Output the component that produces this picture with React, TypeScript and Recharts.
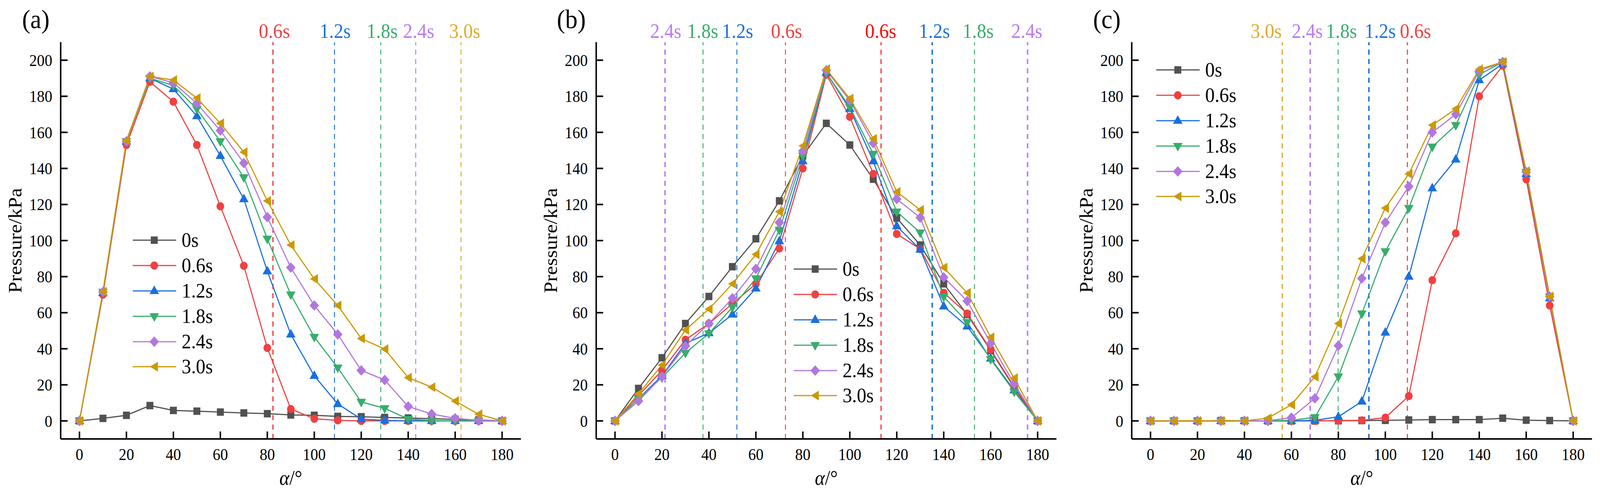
import React from "react";
import { LineChart, Line, XAxis, YAxis, ReferenceLine, Legend } from "recharts";

// ---- data ----
const ANGLE = [0, 10, 20, 30, 40, 50, 60, 70, 80, 90, 100, 110, 120, 130, 140, 150, 160, 170, 180];
const SERIES_NAMES = ["0s", "0.6s", "1.2s", "1.8s", "2.4s", "3.0s"];
const X_TICKS = [0, 20, 40, 60, 80, 100, 120, 140, 160, 180];
const Y_TICKS = [0, 20, 40, 60, 80, 100, 120, 140, 160, 180, 200];

// (a)
const A_0S = [0, 1.4, 3.1, 8.5, 5.8, 5.4, 4.9, 4.4, 4.0, 3.3, 3.1, 2.5, 2.3, 1.9, 1.6, 1.2, 0.9, 0.5, 0];
const A_06 = [0, 70, 153, 188, 177, 153, 119, 86, 40.5, 6.6, 1.2, 0.3, 0, 0, 0, 0, 0, 0, 0];
const A_12 = [0, 71, 155, 190, 184, 169, 147, 123, 83, 48, 25, 9.4, 1, 0.3, 0, 0, 0, 0, 0];
const A_18 = [0, 71.5, 155, 190, 186, 173, 155, 135, 101, 70, 46.5, 29.5, 10.5, 7, 1, 0.2, 0, 0, 0];
const A_24 = [0, 71.5, 155, 191, 187.5, 176, 161, 143, 113, 85, 64, 48, 28, 22.7, 8, 3.8, 1.4, 0.3, 0];
const A_30 = [0, 71.7, 155.5, 191, 189, 179, 165, 149, 122, 97.5, 78.7, 64, 45.7, 39.8, 24, 18.7, 11, 3.7, 0];
const A_FRONT = [82.4, 108.6, 128.3, 143.2, 162.5];
const A_FRONT_LABELS = ["0.6s", "1.2s", "1.8s", "2.4s", "3.0s"];

// (b)
const B_0S = [0, 18, 35, 54, 69, 85.5, 101, 122, 147, 165, 153, 134, 112.5, 97.5, 76, 59, 39, 18.5, 0];
const B_06 = [0, 14, 28, 45, 54, 65, 76, 95.6, 140, 192, 168.6, 137, 103.7, 95.3, 71, 59.5, 39.5, 19, 0];
const B_12 = [0, 12.4, 25, 43, 48.7, 59, 73.5, 99.7, 144, 193, 173, 144, 108, 95, 63.5, 52.4, 34.6, 17, 0];
const B_18 = [0, 12.4, 24, 37.7, 48.5, 63, 79, 105.8, 147, 193, 174, 148, 116, 104.4, 68.8, 54.8, 34.2, 16.2, 0];
const B_24 = [0, 11, 24.6, 41.5, 54, 68, 84.3, 110, 149.7, 194.4, 177.7, 154, 123, 112.7, 79.6, 66.5, 43, 20.6, 0];
const B_30 = [0, 15, 31, 50.4, 62, 76, 92.3, 116, 152.5, 195, 178.7, 156.4, 127, 117, 85, 71, 46.4, 23.7, 0];
const B_FRONT = [21.3, 37.5, 51.9, 72.6, 113.3, 135.1, 153.1, 175.7];
const B_FRONT_LABELS = ["2.4s", "1.8s", "1.2s", "0.6s", "0.6s", "1.2s", "1.8s", "2.4s"];

// (c)
const C_0S = [0, 0, 0, 0.2, 0.1, 0, 0, 0, 0.1, 0.2, 0.3, 0.5, 0.7, 0.7, 0.7, 1.5, 0.4, 0.2, 0];
const C_06 = [0, 0, 0, 0, 0, 0, 0, 0, 0.1, 0.3, 1.8, 13.8, 78, 104, 180, 197, 134, 64, 0];
const C_12 = [0, 0, 0, 0, 0, 0, 0, 0.3, 2.3, 10.8, 49, 80, 129, 145, 189, 198, 137, 68, 0];
const C_18 = [0, 0, 0, 0, 0, 0, 0.3, 2, 24.6, 59.5, 94, 118, 152, 164, 192, 199, 138, 69, 0];
const C_24 = [0, 0, 0, 0, 0, 0.1, 1.8, 12.5, 41.7, 79, 110, 130, 160, 170, 194, 199, 138, 69, 0];
const C_30 = [0, 0, 0, 0, 0, 1.5, 9, 24.5, 54, 90, 118, 137, 164, 173, 195, 199, 138.5, 69, 0];
const C_FRONT = [56.1, 68, 79.9, 93, 109.4];
const C_FRONT_LABELS = ["3.0s", "2.4s", "1.8s", "1.2s", "0.6s"];

// ---- styling ----
const FONT = "'Liberation Serif', 'Times New Roman', Times, serif";
const KEYS = ["s0", "s06", "s12", "s18", "s24", "s30"];
const COLORS = ["#515151", "#F14040", "#1A6FDF", "#37AD6B", "#B177DE", "#CC9900"];
const SHAPES = ["square", "circle", "up", "down", "diamond", "left"];
const FRONT_COLORS: Record<string, string> = {
  "0.6s": "#F14040",
  "1.2s": "#1A6FDF",
  "1.8s": "#37AD6B",
  "2.4s": "#B87AF5",
  "3.0s": "#E6A82A",
};

function buildRows(series: number[][]) {
  return ANGLE.map((a, i) => {
    const row: Record<string, number> = { angle: a };
    KEYS.forEach((k, j) => (row[k] = series[j][i]));
    return row;
  });
}

function Marker({ shape, cx, cy, color }: { shape: string; cx: number; cy: number; color: string }) {
  if (cx == null || cy == null) return null;
  switch (shape) {
    case "square":
      return <rect x={cx - 9.5} y={cy - 9.5} width={19} height={19} fill={color} />;
    case "circle":
      return <circle cx={cx} cy={cy} r={10.5} fill={color} />;
    case "up":
      return <polygon points={`${cx},${cy - 14} ${cx + 13},${cy + 8} ${cx - 13},${cy + 8}`} fill={color} />;
    case "down":
      return <polygon points={`${cx},${cy + 14} ${cx + 13},${cy - 8} ${cx - 13},${cy - 8}`} fill={color} />;
    case "diamond":
      return <polygon points={`${cx},${cy - 13.5} ${cx + 13},${cy} ${cx},${cy + 13.5} ${cx - 13},${cy}`} fill={color} />;
    default:
      return <polygon points={`${cx - 12},${cy} ${cx + 10},${cy - 12.5} ${cx + 10},${cy + 12.5}`} fill={color} />;
  }
}

const XTick = (props: any) => {
  const { x, y, payload } = props;
  const axisY = y - 24;
  return (
    <g>
      <line x1={x} x2={x} y1={axisY} y2={axisY - 19} stroke="#000" strokeWidth={4} />
      <text x={x} y={y} dy="0.71em" textAnchor="middle" style={{ fontFamily: FONT, fontSize: 42 }} fill="#000">
        {payload.value}
      </text>
    </g>
  );
};

const YTick = (props: any) => {
  const { x, y, payload } = props;
  const axisX = x + 23;
  return (
    <g>
      <line x1={axisX} x2={axisX + 19} y1={y} y2={y} stroke="#000" strokeWidth={4} />
      <text x={x} y={y} dy="0.35em" textAnchor="end" style={{ fontFamily: FONT, fontSize: 42 }} fill="#000">
        {payload.value}
      </text>
    </g>
  );
};

function LegendBox() {
  return (
    <div style={{ fontFamily: FONT, fontSize: 52, color: "#000" }}>
      {SERIES_NAMES.map((name, i) => (
        <div key={name} style={{ display: "flex", alignItems: "center", height: 64.8 }}>
          <svg width={134} height={40} style={{ display: "block" }}>
            <line x1={0} x2={119} y1={20} y2={20} stroke={COLORS[i]} strokeWidth={3} />
            <Marker shape={SHAPES[i]} cx={59} cy={20} color={COLORS[i]} />
          </svg>
          <span style={{ lineHeight: "1" }}>{name}</span>
        </div>
      ))}
    </div>
  );
}

interface PanelProps {
  title: string;
  left: number;
  width: number;
  marginRight: number;
  series: number[][];
  fronts: number[];
  frontLabels: string[];
  frontWidths: number[];
  frontDx: number[];
  frontColors?: (string | undefined)[];
  legendLeft: number;
  legendTop: number;
}

function Panel(p: PanelProps) {
  const data = buildRows(p.series);
  return (
    <div style={{ position: "absolute", left: p.left, top: 0, width: p.width, height: 1265 }}>
      <LineChart
        width={p.width}
        height={1265}
        data={data}
        margin={{ top: 108, right: p.marginRight, bottom: 0, left: 0 }}
        style={{ fontFamily: FONT }}
      >
        <XAxis
          dataKey="angle"
          type="number"
          domain={[-8, 188]}
          ticks={X_TICKS}
          allowDataOverflow
          height={141}
          tickSize={0}
          tickMargin={24}
          tickLine={false}
          tick={<XTick />}
          axisLine={{ stroke: "#000", strokeWidth: 4 }}
          label={(lp: any) => {
            const vb = lp.viewBox;
            return (
              <text x={vb.x + vb.width / 2} y={vb.y + 117} textAnchor="middle" style={{ fontFamily: FONT, fontSize: 52 }} fill="#000">
                <tspan fontStyle="italic">α</tspan>/°
              </text>
            );
          }}
        />
        <XAxis
          xAxisId="top"
          orientation="top"
          dataKey="angle"
          type="number"
          domain={[-8, 188]}
          height={0}
          tick={false}
          tickLine={false}
          axisLine={{ stroke: "#000", strokeWidth: 4 }}
        />
        <YAxis
          type="number"
          domain={[-10, 210]}
          ticks={Y_TICKS}
          allowDataOverflow
          width={166}
          tickSize={0}
          tickMargin={23}
          tickLine={false}
          tick={<YTick />}
          axisLine={{ stroke: "#000", strokeWidth: 4 }}
          label={(lp: any) => {
            const vb = lp.viewBox;
            const cx = vb.x + 41;
            const cy = vb.y + vb.height / 2;
            return (
              <text
                x={cx}
                y={cy}
                dy="0.35em"
                textAnchor="middle"
                transform={`rotate(-90, ${cx}, ${cy})`}
                style={{ fontFamily: FONT, fontSize: 52 }}
                fill="#000"
              >
                Pressure/kPa
              </text>
            );
          }}
        />
        <YAxis
          yAxisId="right"
          orientation="right"
          type="number"
          domain={[-10, 210]}
          width={0}
          tick={false}
          tickLine={false}
          axisLine={{ stroke: "#000", strokeWidth: 4 }}
        />
        {p.fronts.map((fx, i) => {
          const name = p.frontLabels[i];
          const color = (p.frontColors && p.frontColors[i]) || FRONT_COLORS[name];
          const dx = p.frontDx[i];
          return (
            <ReferenceLine
              key={`front-${i}`}
              x={fx}
              stroke={color}
              strokeWidth={p.frontWidths[i]}
              strokeDasharray="13 11"
              label={(lp: any) => {
                const vb = lp.viewBox;
                return (
                  <text x={vb.x + dx} y={vb.y - 11} textAnchor="middle" style={{ fontFamily: FONT, fontSize: 52 }} fill={color}>
                    {name}
                  </text>
                );
              }}
            />
          );
        })}
        {KEYS.map((k, j) => (
          <Line
            key={k}
            type="linear"
            dataKey={k}
            name={SERIES_NAMES[j]}
            stroke={COLORS[j]}
            strokeWidth={3}
            isAnimationActive={false}
            activeDot={false}
            dot={(dp: any) => <Marker key={`${k}-${dp.index}`} shape={SHAPES[j]} cx={dp.cx} cy={dp.cy} color={COLORS[j]} />}
          />
        ))}
        <Legend
          layout="vertical"
          align="center"
          verticalAlign="middle"
          wrapperStyle={{ left: p.legendLeft, top: p.legendTop, width: 300, height: 390 }}
          content={() => <LegendBox />}
        />
      </LineChart>
      <svg width={220} height={110} style={{ position: "absolute", left: 0, top: 0, pointerEvents: "none" }}>
        <text x={98} y={72} textAnchor="middle" style={{ fontFamily: FONT, fontSize: 68 }} fill="#000">
          {p.title}
        </text>
      </svg>
    </div>
  );
}

// the window may come out narrower than the 4377px figure; fit the fixed-size stage into it
function Stage({ children }: { children: React.ReactNode }) {
  const sx = typeof window !== "undefined" ? window.innerWidth / 4377 : 1;
  const sy = typeof window !== "undefined" ? window.innerHeight / 1265 : 1;
  return (
    <div
      style={{
        position: "absolute",
        left: 0,
        top: 0,
        width: 4377,
        height: 1265,
        background: "#fff",
        overflow: "hidden",
        transform: `scale(${sx}, ${sy})`,
        transformOrigin: "0 0",
      }}
    >
      {children}
    </div>
  );
}

export default function App() {
  return (
    <Stage>
      <Panel
        title="(a)"
        left={0}
        width={1465}
        marginRight={40}
        series={[A_0S, A_06, A_12, A_18, A_24, A_30]}
        fronts={A_FRONT}
        frontLabels={A_FRONT_LABELS}
        frontWidths={[3.5, 2.5, 2.5, 2.5, 2.5]}
        frontDx={[4, 2, 4, 8, 10]}
        legendLeft={363}
        legendTop={583}
      />
      <Panel
        title="(b)"
        left={1465}
        width={1465}
        marginRight={40}
        series={[B_0S, B_06, B_12, B_18, B_24, B_30]}
        fronts={B_FRONT}
        frontLabels={B_FRONT_LABELS}
        frontWidths={[4, 2.5, 2.5, 2.5, 2.5, 4, 2.5, 4]}
        frontDx={[2, -1, 2, 3, -1, 6, 10, -2]}
        frontColors={[undefined, undefined, undefined, undefined, "#FF0000", undefined, undefined, undefined]}
        legendLeft={706}
        legendTop={657}
      />
      <Panel
        title="(c)"
        left={2930}
        width={1447}
        marginRight={22}
        series={[C_0S, C_06, C_12, C_18, C_24, C_30]}
        fronts={C_FRONT}
        frontLabels={C_FRONT_LABELS}
        frontWidths={[3.5, 4, 2.5, 4, 3]}
        frontDx={[-44, -8, 9, 31, 22]}
        legendLeft={233}
        legendTop={147}
      />
    </Stage>
  );
}
